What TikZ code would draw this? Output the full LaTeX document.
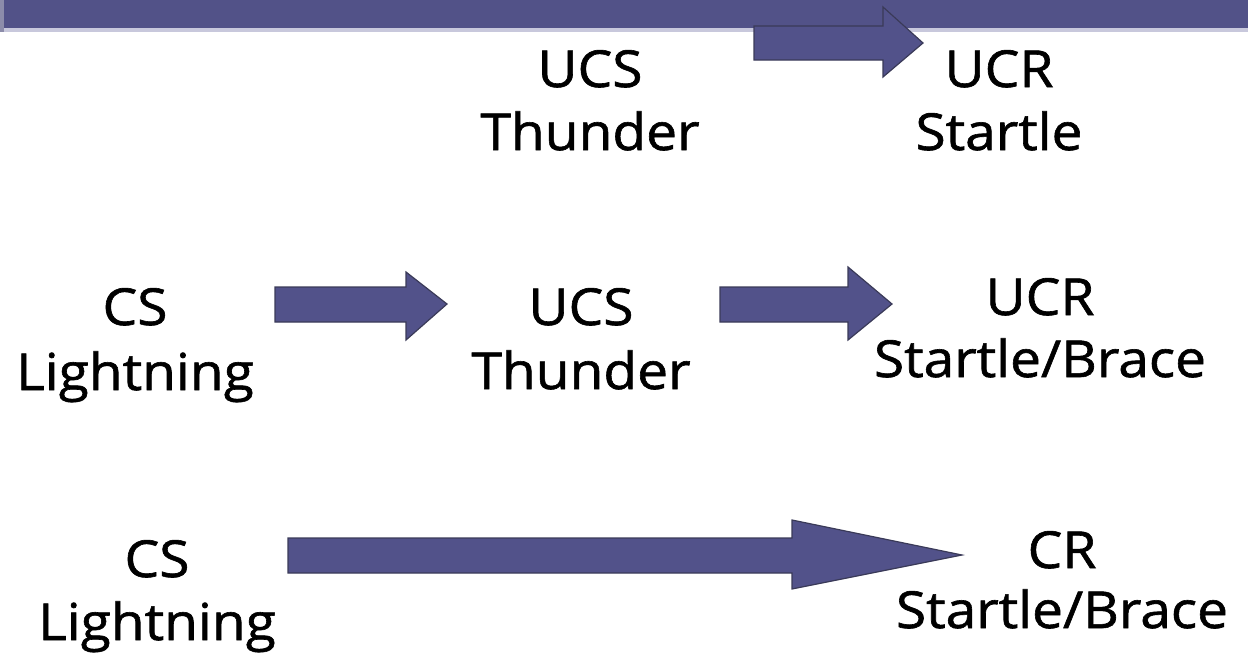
\documentclass[tikz,border=0pt]{standalone}
\usepackage{fontspec}
\setmainfont{Open Sans}[FakeBold=1.2,FakeStretch=1.08]
\definecolor{barblue}{RGB}{82,82,136}
\definecolor{arrowfill}{RGB}{82,82,138}
\definecolor{arrowedge}{RGB}{58,58,88}
\definecolor{barlight}{RGB}{200,200,220}
\definecolor{baredge}{RGB}{140,140,170}
\tikzset{
  lbl/.style={anchor=base, inner sep=0pt, font=\fontsize{51}{60}\selectfont, text=black},
  blockarrow/.style={fill=arrowfill, draw=arrowedge, line width=1.2pt, line join=miter}
}
\begin{document}
\begin{tikzpicture}[x=1pt,y=-1pt]
\useasboundingbox (0,0) rectangle (1248,656);
% top bar
\fill[barlight] (0,28) rectangle (1248,32);
\fill[barblue] (0,0) rectangle (1248,28);
\fill[baredge] (0,0) rectangle (4,32);
% arrows
\draw[blockarrow] (754,26) -- (883,26) -- (883,7) -- (923,43) -- (883,77) -- (883,60) -- (754,60) -- cycle;
\draw[blockarrow] (275,287) -- (406,287) -- (406,272) -- (447,304) -- (406,340) -- (406,322) -- (275,322) -- cycle;
\draw[blockarrow] (720,287) -- (848,287) -- (848,267) -- (892,304) -- (848,340) -- (848,322) -- (720,322) -- cycle;
\draw[blockarrow] (288,538) -- (792,538) -- (792,520) -- (962,555) -- (792,589) -- (792,573) -- (288,573) -- cycle;
% labels
\node[lbl] (ucsA) at (590,87) {UCS};
\node[lbl] (thunderA) at (590,150) {Thunder};
\node[lbl] (ucrA) at (999,87) {UCR};
\node[lbl] (startleA) at (999,150) {Startle};
\node[lbl] (csB) at (135,325) {CS};
\node[lbl] (lightB) at (135,390) {Lightning};
\node[lbl] (ucsB) at (581,325) {UCS};
\node[lbl] (thunderB) at (581,389) {Thunder};
\node[lbl] (ucrB) at (1040,315) {UCR};
\node[lbl] (startleB) at (1040,377) {Startle/Brace};
\node[lbl] (csC) at (157,577) {CS};
\node[lbl] (lightC) at (157,640) {Lightning};
\node[lbl] (crC) at (1062,568) {CR};
\node[lbl] (startleC) at (1062,628) {Startle/Brace};
\end{tikzpicture}
\end{document}
